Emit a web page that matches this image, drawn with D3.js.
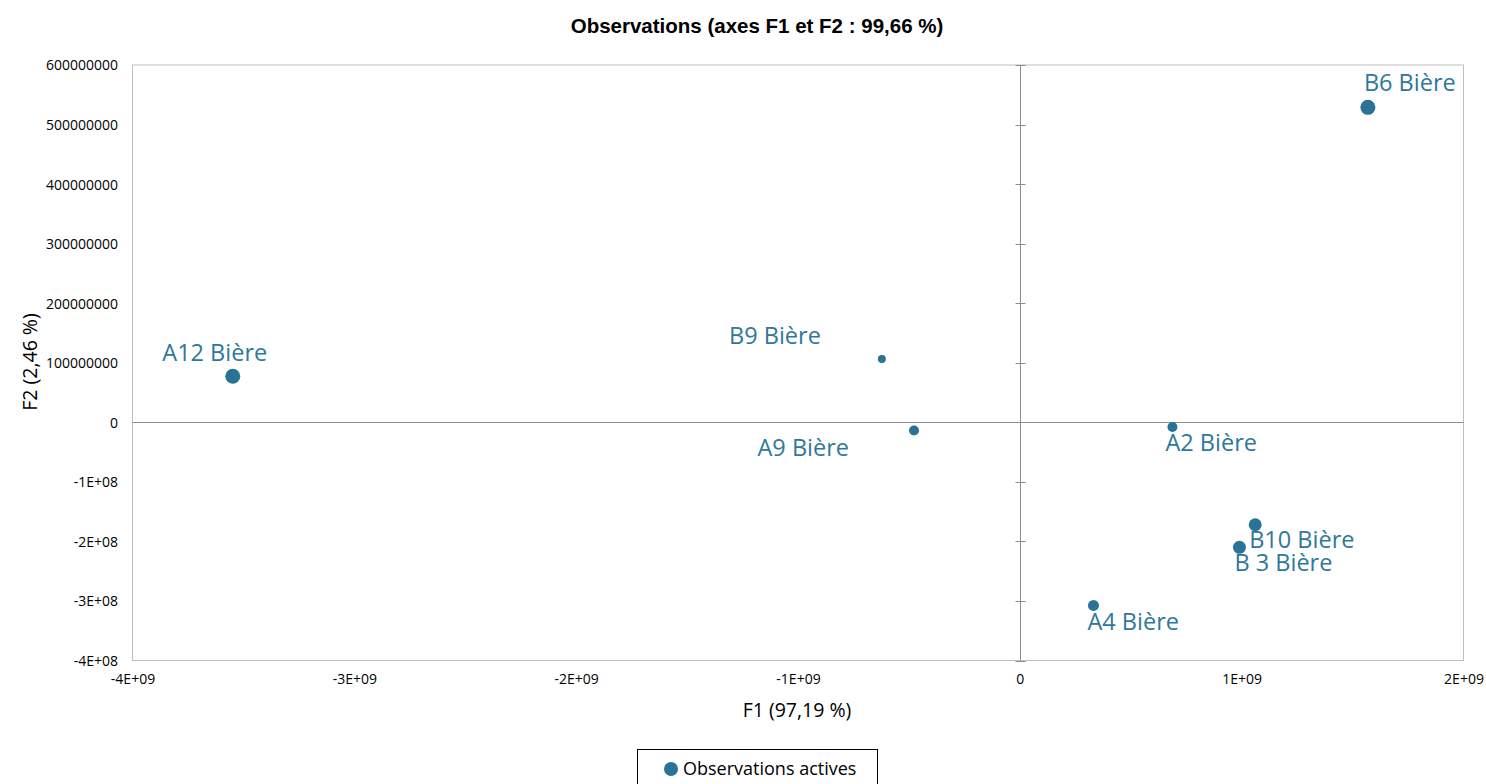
<!DOCTYPE html>
<html>
<head>
<meta charset="utf-8">
<script src="https://cdn.jsdelivr.net/npm/d3@7"></script>
<style>
  html, body { margin: 0; padding: 0; background: #fff; }
  svg { display: block; }
</style>
</head>
<body>
<svg id="chart" width="1486" height="784"></svg>
<script>
// Observations projected on the first two factorial axes
const labels = ["A12 Bière", "B9 Bière", "A9 Bière", "A2 Bière", "B6 Bière", "B10 Bière", "B 3 Bière", "A4 Bière"];
const f1 = [-3.548e9, -0.622e9, -0.477e9, 0.688e9, 1.569e9, 1.061e9, 0.990e9, 0.332e9];
const f2 = [77.3e6, 106.4e6, -13.9e6, -7.9e6, 528.9e6, -172e6, -210e6, -307.6e6];
// relative contribution of each observation (drives marker area)
const contributions = [56, 16, 25, 25, 56, 42, 42, 30];

const xTicks = [-4e9, -3e9, -2e9, -1e9, 0, 1e9, 2e9];
const xTickLabels = ["-4E+09", "-3E+09", "-2E+09", "-1E+09", "0", "1E+09", "2E+09"];
const yTicks = [-4e8, -3e8, -2e8, -1e8, 0, 1e8, 2e8, 3e8, 4e8, 5e8, 6e8];
const yTickLabels = ["-4E+08", "-3E+08", "-2E+08", "-1E+08", "0", "100000000", "200000000", "300000000", "400000000", "500000000", "600000000"];

const titleText = "Observations (axes F1 et F2 : 99,66 %)";
const xTitle = "F1 (97,19 %)";
const yTitle = "F2 (2,46 %)";
const legendText = "Observations actives";

// label placement relative to each point: anchor + offset
const labelPlacement = {
  "A12 Bière": {anchor: "middle", dx: -18, dy: -15},
  "B9 Bière":  {anchor: "end",    dx: -61, dy: -15},
  "A9 Bière":  {anchor: "end",    dx: -65, dy: 25},
  "A2 Bière":  {anchor: "start",  dx: -7,  dy: 24},
  "B6 Bière":  {anchor: "start",  dx: -4,  dy: -16},
  "B10 Bière": {anchor: "start",  dx: -6,  dy: 23},
  "B 3 Bière": {anchor: "start",  dx: -5,  dy: 24},
  "A4 Bière":  {anchor: "start",  dx: -6,  dy: 25}
};

const pointColor = "#2a7396";
const labelColor = "#2f7899";

const svg = d3.select("#chart");
const plot = {left: 132.5, right: 1463.5, top: 65, bottom: 660.5};

const x = d3.scaleLinear().domain([-4e9, 2e9]).range([plot.left, plot.right]);
const y = d3.scaleLinear().domain([-4e8, 6e8]).range([plot.bottom, plot.top]);
const r = d3.scaleSqrt().domain([0, d3.max(contributions)]).range([0, 7.5]);

// title
svg.append("text")
  .attr("x", 757).attr("y", 33)
  .attr("text-anchor", "middle")
  .attr("font-family", "Liberation Sans, Arial, sans-serif")
  .attr("font-weight", "bold")
  .attr("font-size", 20.5)
  .attr("fill", "#000")
  .text(titleText);

// plot frame
svg.append("rect")
  .attr("x", plot.left).attr("y", plot.top)
  .attr("width", plot.right - plot.left).attr("height", plot.bottom - plot.top)
  .attr("fill", "none").attr("stroke", "#bfbfbf").attr("stroke-width", 1);

// axis through origin (horizontal)
svg.append("line")
  .attr("x1", plot.left).attr("x2", plot.right)
  .attr("y1", Math.round(y(0)) + 0.5).attr("y2", Math.round(y(0)) + 0.5)
  .attr("stroke", "#8c8c8c").attr("stroke-width", 1);

// axis through origin (vertical) with cross ticks
const x0 = Math.round(x(0)) + 0.5;
svg.append("line")
  .attr("x1", x0).attr("x2", x0)
  .attr("y1", plot.top).attr("y2", plot.bottom)
  .attr("stroke", "#8c8c8c").attr("stroke-width", 1);
svg.append("g").selectAll("line").data(yTicks).join("line")
  .attr("x1", x0 - 5).attr("x2", x0 + 5)
  .attr("y1", d => Math.round(y(d)) + 0.5).attr("y2", d => Math.round(y(d)) + 0.5)
  .attr("stroke", "#8c8c8c").attr("stroke-width", 1);

// y tick labels
const tickFont = "Open Sans, Noto Sans, sans-serif";
const yAxis = d3.axisLeft(y).tickValues(yTicks)
  .tickFormat((d, i) => yTickLabels[i]).tickSize(0).tickPadding(0);
const gy = svg.append("g").attr("transform", `translate(118,0)`).call(yAxis);
gy.select(".domain").remove();
gy.selectAll("text")
  .attr("font-family", tickFont).attr("font-size", 14).attr("fill", "#000")
  .attr("dy", "0.35em");

// x tick labels
const xAxis = d3.axisBottom(x).tickValues(xTicks)
  .tickFormat((d, i) => xTickLabels[i]).tickSize(0).tickPadding(0);
const gx = svg.append("g").attr("transform", `translate(0,674)`).call(xAxis);
gx.select(".domain").remove();
gx.selectAll("text")
  .attr("font-family", tickFont).attr("font-size", 14).attr("fill", "#000")
  .attr("dy", "0.71em");

// axis titles
svg.append("text")
  .attr("x", 797).attr("y", 717)
  .attr("text-anchor", "middle")
  .attr("font-family", tickFont).attr("font-size", 19.5).attr("fill", "#000")
  .text(xTitle);
svg.append("text")
  .attr("transform", `translate(37,362) rotate(-90)`)
  .attr("text-anchor", "middle")
  .attr("font-family", tickFont).attr("font-size", 19.5).attr("fill", "#000")
  .text(yTitle);

// observations
const obs = labels.map((l, i) => ({label: l, f1: f1[i], f2: f2[i], c: contributions[i]}));

svg.append("g").selectAll("circle").data(obs).join("circle")
  .attr("cx", d => x(d.f1)).attr("cy", d => y(d.f2))
  .attr("r", d => r(d.c))
  .attr("fill", pointColor);

svg.append("g").selectAll("text").data(obs).join("text")
  .attr("x", d => x(d.f1) + labelPlacement[d.label].dx)
  .attr("y", d => y(d.f2) + labelPlacement[d.label].dy)
  .attr("text-anchor", d => labelPlacement[d.label].anchor)
  .attr("font-family", tickFont).attr("font-size", 23.5)
  .attr("fill", labelColor)
  .text(d => d.label);

// legend
const legend = svg.append("g");
legend.append("rect")
  .attr("x", 637.5).attr("y", 749.5).attr("width", 240).attr("height", 40)
  .attr("fill", "#fff").attr("stroke", "#000").attr("stroke-width", 1);
legend.append("circle")
  .attr("cx", 671).attr("cy", 769).attr("r", 7).attr("fill", pointColor);
legend.append("text")
  .attr("x", 683).attr("y", 775)
  .attr("font-family", tickFont).attr("font-size", 18).attr("fill", "#000")
  .text(legendText);
</script>
</body>
</html>
